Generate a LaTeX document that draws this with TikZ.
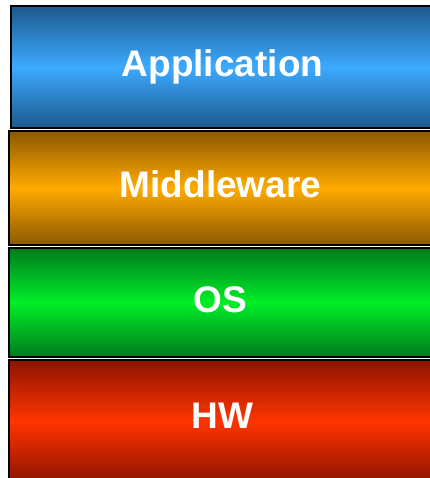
\documentclass[tikz,border=0pt]{standalone}
\usepackage{fontspec}
\setmainfont{Liberation Sans}
\definecolor{appdark}{RGB}{28,88,140}
\definecolor{applight}{RGB}{60,170,255}
\definecolor{middark}{RGB}{140,88,0}
\definecolor{midlight}{RGB}{255,170,0}
\definecolor{osdark}{RGB}{0,122,28}
\definecolor{oslight}{RGB}{0,238,40}
\definecolor{hwdark}{RGB}{140,20,0}
\definecolor{hwlight}{RGB}{255,52,0}
\tikzset{
  layerbox/.style={draw=black, line width=1.3pt, inner sep=0pt, outer sep=0pt, anchor=north west},
  layertext/.style={text=white, font=\bfseries\fontsize{37}{44}\selectfont, anchor=base, inner sep=0pt},
}
\begin{document}
\begin{tikzpicture}[x=1pt,y=1pt]
\useasboundingbox (0,0) rectangle (429,-478);
\node[layerbox, minimum width=421pt, minimum height=122pt,
      top color=appdark, bottom color=appdark, middle color=applight] (app) at (11,-6) {};
\node[layerbox, minimum width=423pt, minimum height=114pt,
      top color=middark, bottom color=middark, middle color=midlight] (mid) at (9,-131) {};
\node[layerbox, minimum width=423pt, minimum height=109pt,
      top color=osdark, bottom color=osdark, middle color=oslight] (os) at (9,-248) {};
\node[layerbox, minimum width=423pt, minimum height=122pt,
      top color=hwdark, bottom color=hwdark, middle color=hwlight] (hw) at (9,-360) {};
\node[layertext] (apptext) at (222.5,-76.5) {Application};
\node[layertext] (midtext) at (220.5,-197.5) {Middleware};
\node[layertext] (ostext) at (220,-312) {OS};
\node[layertext] (hwtext) at (222.5,-428.5) {HW};
\end{tikzpicture}
\end{document}
